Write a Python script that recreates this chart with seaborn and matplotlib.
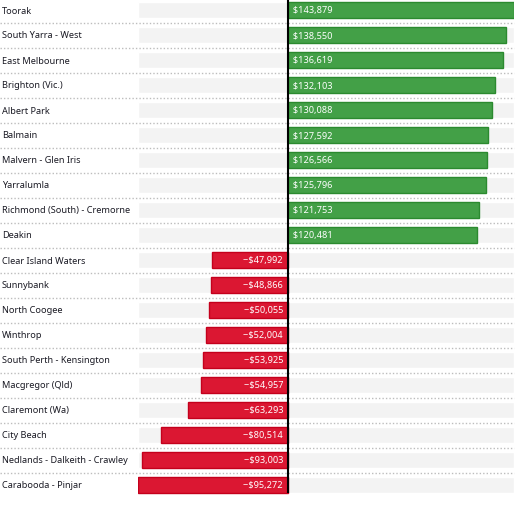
import matplotlib
matplotlib.use("Agg")
import matplotlib.pyplot as plt
import seaborn as sns
import numpy as np

sns.set_style("white")
plt.rcParams["font.family"] = ["Noto Sans", "DejaVu Sans"]

suburbs = [
    "Toorak", "South Yarra - West", "East Melbourne", "Brighton (Vic.)",
    "Albert Park", "Balmain", "Malvern - Glen Iris", "Yarralumla",
    "Richmond (South) - Cremorne", "Deakin", "Clear Island Waters",
    "Sunnybank", "North Coogee", "Winthrop", "South Perth - Kensington",
    "Macgregor (Qld)", "Claremont (Wa)", "City Beach",
    "Nedlands - Dalkeith - Crawley", "Carabooda - Pinjar",
]
changes = [
    143879, 138550, 136619, 132103, 130088, 127592, 126566, 125796,
    121753, 120481, -47992, -48866, -50055, -52004, -53925, -54957,
    -63293, -80514, -93003, -95272,
]

GREEN, GREEN_EDGE = "#43a047", "#2b8a2f"
RED, RED_EDGE = "#db1732", "#c4001c"

W, H = 517, 506
fig = plt.figure(figsize=(W / 100, H / 100), dpi=100)
left_px, right_px = 138, 514
top_px, bot_px = -1.5, 498.5
ax = fig.add_axes([left_px / W, (H - bot_px) / H,
                   (right_px - left_px) / W, (bot_px - top_px) / H])

n = len(suburbs)
xmin, xmax = min(changes), max(changes)
bar_h = 0.64

sign = ["pos" if v >= 0 else "neg" for v in changes]
sns.barplot(x=changes, y=suburbs, hue=sign, palette={"pos": GREEN, "neg": RED},
            orient="h", width=bar_h, dodge=False, legend=False, ax=ax,
            saturation=1, linewidth=1, zorder=2)
for p in ax.patches:
    p.set_edgecolor(GREEN_EDGE if p.get_width() >= 0 else RED_EDGE)

# grey background bands behind each row
ax.barh(np.arange(n), xmax - xmin, left=xmin, height=bar_h,
        color="#f3f3f3", zorder=0)

ax.set_xlim(xmin, xmax)
ax.set_ylim(n - 0.5, -0.5)
ax.axis("off")

# zero line
ax.vlines(0, -0.5, n - 1 + bar_h / 2, color="black", lw=1.5, zorder=3)

# dotted row separators
xfrac = -left_px / (right_px - left_px)
for i in range(n - 1):
    ax.axhline(i + 0.5, xmin=xfrac, xmax=1, color="#bdbdbd", lw=1,
               ls=(0, (1, 1.5)), clip_on=False, zorder=1)

# labels and values
ytr = ax.get_yaxis_transform()
px = 1 / (right_px - left_px)
fs = 6.6
for i, (name, v) in enumerate(zip(suburbs, changes)):
    ax.text(xfrac + 2 * px, i, name, transform=ytr, ha="left", va="center",
            fontsize=fs, color="#1a1a24")
    if v >= 0:
        ax.text(0, i, f"  ${v:,}", ha="left", va="center", fontsize=fs,
                color="white", zorder=4)
    else:
        ax.text(0, i, f"\u2212${-v:,}  ", ha="right", va="center", fontsize=fs,
                color="white", zorder=4)

fig.savefig("out.png", dpi=100)
